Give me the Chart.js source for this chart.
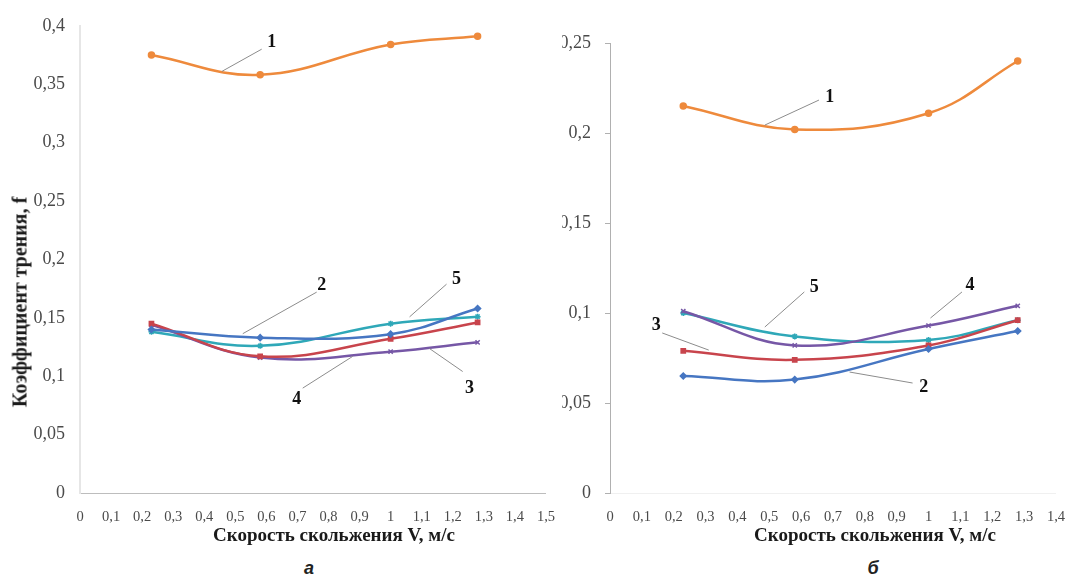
<!DOCTYPE html>
<html><head><meta charset="utf-8">
<script src="https://cdn.jsdelivr.net/npm/chart.js@4.4.0/dist/chart.umd.min.js"></script>
<style>
html,body{margin:0;padding:0;background:#fff;width:1072px;height:576px;overflow:hidden;position:relative}
#wa{position:absolute;left:0;top:0;width:562px;height:545px;overflow:hidden}
#wb{position:absolute;left:562px;top:0;width:510px;height:545px;overflow:hidden}
#ca{position:absolute;left:0;top:0;width:562px;height:545px}
#cb{position:absolute;left:-20px;top:0;width:530px;height:545px}
.t{position:absolute;font-weight:bold;font-family:"Liberation Serif","Times New Roman",serif;color:#1a1a1a;white-space:nowrap;transform:translate(-50%,-50%)}
.cap{position:absolute;font:italic bold 18px "Liberation Sans",Arial,sans-serif;color:#222;transform:translate(-50%,-50%)}
</style></head><body>
<div id="wa"><canvas id="ca" width="562" height="545"></canvas></div>
<div id="wb"><canvas id="cb" width="530" height="545"></canvas></div>
<div class="t" id="ytitle" style="left:20px;top:302px;font-size:20px;transform:translate(-50%,-50%) rotate(-90deg)">Коэффициент трения, f</div>
<div class="t" style="left:334px;top:535px;font-size:19px">Скорость скольжения V, м/с</div>
<div class="t" style="left:875px;top:535px;font-size:19px">Скорость скольжения V, м/с</div>
<div class="cap" style="left:309px;top:568px">а</div>
<div class="cap" style="left:873px;top:568px">б</div>
<script>
// ---- data ----
const speeds = [0.23, 0.58, 1.0, 1.28];
const seriesNames = ['1', '2', '3', '4', '5'];
const xTicksA = ['0','0,1','0,2','0,3','0,4','0,5','0,6','0,7','0,8','0,9','1','1,1','1,2','1,3','1,4','1,5'];
const xTicksB = ['0','0,1','0,2','0,3','0,4','0,5','0,6','0,7','0,8','0,9','1','1,1','1,2','1,3','1,4'];
const yTicksA = ['0','0,05','0,1','0,15','0,2','0,25','0,3','0,35','0,4'];
const yTicksB = ['0','0,05','0,1','0,15','0,2','0,25'];
// chart а
const a1 = [0.375, 0.358, 0.384, 0.391];
const a2 = [0.140, 0.133, 0.136, 0.158];
const a3 = [0.145, 0.117, 0.132, 0.146];
const a4 = [0.144, 0.116, 0.121, 0.129];
const a5 = [0.138, 0.126, 0.145, 0.151];
// chart б
const b1 = [0.215, 0.202, 0.211, 0.240];
const b2 = [0.065, 0.063, 0.080, 0.090];
const b3 = [0.079, 0.074, 0.082, 0.096];
const b4 = [0.101, 0.082, 0.093, 0.104];
const b5 = [0.100, 0.087, 0.085, 0.096];

// ---- styles ----
const colors = ['#EE8A3C', '#4676C2', '#C8444C', '#7657A6', '#2FA8B8'];
const pstyles = ['circle', 'rectRot', 'rect', 'crossRot', 'star'];

// annotation callouts (data coordinates)
const notesA = [
  {t:'1', tx:0.617, ty:0.3856, x1:0.585, y1:0.380, x2:0.457, y2:0.361},
  {t:'2', tx:0.778, ty:0.178, x1:0.762, y1:0.172, x2:0.524, y2:0.1364},
  {t:'5', tx:1.212, ty:0.183, x1:1.18, y1:0.1788, x2:1.061, y2:0.1508},
  {t:'4', tx:0.698, ty:0.0805, x1:0.717, y1:0.0898, x2:0.878, y2:0.117},
  {t:'3', tx:1.254, ty:0.0898, x1:1.232, y1:0.104, x2:1.125, y2:0.1237}
];
const notesB = [
  {t:'1', tx:0.690, ty:0.220, x1:0.656, y1:0.2183, x2:0.486, y2:0.2044},
  {t:'5', tx:0.641, ty:0.1144, x1:0.610, y1:0.1117, x2:0.486, y2:0.0922},
  {t:'4', tx:1.130, ty:0.1156, x1:1.105, y1:0.1117, x2:1.006, y2:0.0972},
  {t:'3', tx:0.1455, ty:0.0933, x1:0.164, y1:0.0889, x2:0.31, y2:0.0794},
  {t:'2', tx:0.985, ty:0.0589, x1:0.950, y1:0.0611, x2:0.752, y2:0.0672}
];

function mkDatasets(arrs) {
  return arrs.map((arr, i) => ({
    label: seriesNames[i],
    data: arr.map((v, k) => ({x: speeds[k], y: v})),
    borderColor: colors[i],
    backgroundColor: colors[i],
    borderWidth: 2.5,
    tension: 0.4,
    pointStyle: pstyles[i],
    pointRadius: 3,
    pointBorderWidth: 1.5,
    pointBorderColor: colors[i],
    pointBackgroundColor: colors[i]
  }));
}

const calloutPlugin = {
  id: 'callouts',
  afterDatasetsDraw(chart, args, opts) {
    const ctx = chart.ctx, xs = chart.scales.x, ys = chart.scales.y;
    ctx.save();
    (opts.notes || []).forEach(n => {
      ctx.strokeStyle = '#8c8c8c';
      ctx.lineWidth = 1;
      ctx.beginPath();
      ctx.moveTo(xs.getPixelForValue(n.x1), ys.getPixelForValue(n.y1));
      ctx.lineTo(xs.getPixelForValue(n.x2), ys.getPixelForValue(n.y2));
      ctx.stroke();
      ctx.fillStyle = '#111';
      ctx.font = 'bold 18px "Liberation Serif", serif';
      ctx.textAlign = 'center';
      ctx.textBaseline = 'middle';
      ctx.fillText(n.t, xs.getPixelForValue(n.tx), ys.getPixelForValue(n.ty));
    });
    ctx.restore();
  }
};

function mkChart(id, arrs, cfg) {
  return new Chart(document.getElementById(id), {
    type: 'line',
    data: {datasets: mkDatasets(arrs)},
    plugins: [calloutPlugin],
    options: {
      responsive: false,
      animation: false,
      devicePixelRatio: 1,
      layout: {padding: {left: 0, right: cfg.padRight, top: cfg.padTop, bottom: 0}},
      plugins: {legend: {display: false}, tooltip: {enabled: false}, callouts: {notes: cfg.notes}},
      scales: {
        x: {
          type: 'linear', min: 0, max: cfg.xMax,
          afterFit: s => { s.height = 52; },
          grid: {display: false},
          border: {display: true, color: cfg.xBorder, width: 1},
          ticks: {
            stepSize: 0.1, autoSkip: false, maxRotation: 0, minRotation: 0, padding: 7,
            color: '#4a4a4a', font: {family: '"Liberation Serif", serif', size: 14.5},
            callback: v => cfg.xTicks[Math.round(v * 10)]
          }
        },
        y: {
          type: 'linear', min: 0, max: cfg.yMax,
          afterFit: s => { s.width = cfg.yWidth; },
          grid: {display: cfg.yTickMarks, drawOnChartArea: false, drawTicks: cfg.yTickMarks, tickLength: 5, color: '#b0b0b0'},
          border: {display: true, color: cfg.yBorder, width: cfg.yBorderW},
          ticks: {
            stepSize: 0.05, padding: cfg.yPad,
            color: '#4a4a4a', font: {family: '"Liberation Serif", serif', size: 18},
            callback: v => cfg.yTicks[Math.round(v * 20)]
          }
        }
      }
    }
  });
}

mkChart('ca', [a1, a2, a3, a4, a5], {
  xMax: 1.5, yMax: 0.4, xTicks: xTicksA, yTicks: yTicksA,
  padRight: 15, padTop: 19, yWidth: 80, yPad: 15, yTickMarks: false,
  xBorder: '#bdbdbd', yBorder: '#e6e6e6', yBorderW: 2, notes: notesA
});
mkChart('cb', [b1, b2, b3, b4, b5], {
  xMax: 1.4, yMax: 0.25, xTicks: xTicksB, yTicks: yTicksB,
  padRight: 0, padTop: 43, yWidth: 68, yPad: 14, yTickMarks: true,
  xBorder: '#f0f0f0', yBorder: '#b0b0b0', yBorderW: 1, notes: notesB
});
</script>
</body></html>
